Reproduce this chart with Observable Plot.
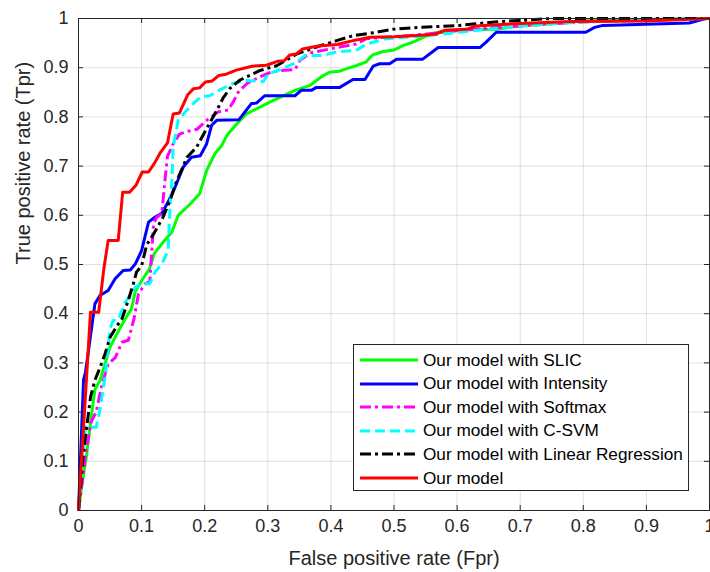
<!DOCTYPE html>
<html>
<head>
<meta charset="utf-8">
<script src="https://cdn.jsdelivr.net/npm/d3@7"></script>
<script src="https://cdn.jsdelivr.net/npm/@observablehq/plot@0.6"></script>
<style>
  html, body { margin: 0; padding: 0; background: #fff; }
  #wrap { position: relative; width: 710px; height: 572px; font-family: "Liberation Sans", Arial, Helvetica, sans-serif; }
  #legend { position: absolute; left: 353px; top: 344px; width: 334px; height: 145px; background: #fff; border: 1px solid #262626; }
  .row { position: absolute; left: 0; height: 24px; display: flex; align-items: center; font-size: 17.2px; color: #000; white-space: nowrap; }
  .row svg { margin-left: 6px; margin-right: 5px; }
</style>
</head>
<body>
<div id="wrap"></div>
<script>
// ---- data (Fpr, Tpr) ----
const seriesNames = ["Our model with SLIC", "Our model with Intensity", "Our model with Softmax", "Our model with C-SVM", "Our model with Linear Regression", "Our model"];
const seriesColors = ["#00ff00", "#0000ff", "#ff00ff", "#00ffff", "#000000", "#ff0000"];
const seriesDashes = [null, null, "11,4,3,4", "10,5", "11,4,3,4", null];

const slic = [[0,0],[0.005,0.047],[0.013,0.115],[0.021,0.197],[0.026,0.246],[0.034,0.264],[0.042,0.298],[0.050,0.332],[0.058,0.352],[0.069,0.378],[0.077,0.396],[0.084,0.41],[0.090,0.445],[0.100,0.467],[0.112,0.49],[0.120,0.522],[0.132,0.542],[0.148,0.566],[0.158,0.600],[0.163,0.606],[0.177,0.623],[0.192,0.644],[0.203,0.691],[0.216,0.725],[0.227,0.742],[0.235,0.762],[0.251,0.786],[0.266,0.806],[0.277,0.813],[0.303,0.830],[0.343,0.854],[0.367,0.864],[0.377,0.874],[0.388,0.884],[0.398,0.891],[0.414,0.893],[0.425,0.898],[0.440,0.904],[0.456,0.912],[0.466,0.926],[0.483,0.933],[0.500,0.936],[0.514,0.945],[0.532,0.953],[0.550,0.964],[0.570,0.972],[0.615,0.977],[0.66,0.978],[0.70,0.985],[0.80,0.995],[0.9,0.998],[1,1]];
const intensity = [[0,0],[0.008,0.266],[0.011,0.28],[0.026,0.42],[0.034,0.437],[0.047,0.447],[0.058,0.471],[0.071,0.488],[0.082,0.489],[0.090,0.501],[0.100,0.528],[0.111,0.586],[0.121,0.596],[0.132,0.604],[0.142,0.627],[0.153,0.657],[0.166,0.698],[0.179,0.718],[0.193,0.721],[0.203,0.745],[0.211,0.783],[0.219,0.793],[0.254,0.794],[0.274,0.827],[0.282,0.828],[0.295,0.843],[0.343,0.843],[0.353,0.854],[0.369,0.854],[0.377,0.860],[0.414,0.860],[0.435,0.876],[0.454,0.876],[0.467,0.903],[0.477,0.908],[0.493,0.908],[0.504,0.917],[0.545,0.917],[0.570,0.941],[0.636,0.941],[0.646,0.952],[0.662,0.972],[0.804,0.972],[0.818,0.982],[0.831,0.986],[0.968,0.991],[0.994,1.0],[1,1]];
const softmax = [[0,0],[0.012,0.12],[0.02,0.18],[0.028,0.2],[0.037,0.255],[0.047,0.298],[0.058,0.31],[0.069,0.342],[0.079,0.346],[0.088,0.39],[0.095,0.44],[0.105,0.46],[0.113,0.465],[0.119,0.583],[0.124,0.596],[0.132,0.603],[0.137,0.671],[0.141,0.72],[0.150,0.745],[0.160,0.765],[0.174,0.771],[0.188,0.775],[0.203,0.793],[0.221,0.810],[0.237,0.814],[0.245,0.83],[0.253,0.850],[0.268,0.869],[0.287,0.881],[0.305,0.891],[0.320,0.894],[0.343,0.896],[0.351,0.915],[0.367,0.930],[0.398,0.938],[0.44,0.948],[0.456,0.959],[0.5,0.963],[0.55,0.968],[0.604,0.976],[0.7,0.985],[0.8,0.993],[0.9,0.997],[1,1]];
const csvm = [[0,0],[0.011,0.169],[0.028,0.169],[0.034,0.205],[0.042,0.271],[0.050,0.37],[0.055,0.386],[0.063,0.388],[0.074,0.423],[0.084,0.44],[0.090,0.454],[0.100,0.461],[0.113,0.461],[0.121,0.484],[0.132,0.501],[0.142,0.528],[0.145,0.616],[0.148,0.671],[0.150,0.738],[0.158,0.793],[0.169,0.81],[0.182,0.827],[0.193,0.840],[0.208,0.843],[0.224,0.855],[0.245,0.868],[0.261,0.874],[0.293,0.872],[0.301,0.888],[0.316,0.894],[0.346,0.911],[0.359,0.925],[0.388,0.925],[0.409,0.932],[0.440,0.935],[0.456,0.948],[0.488,0.959],[0.55,0.965],[0.604,0.972],[0.7,0.985],[0.8,0.993],[0.9,0.997],[1,1]];
const linreg = [[0,0],[0.008,0.12],[0.013,0.169],[0.019,0.23],[0.026,0.265],[0.034,0.29],[0.042,0.318],[0.050,0.352],[0.061,0.375],[0.069,0.39],[0.077,0.42],[0.087,0.461],[0.092,0.485],[0.100,0.497],[0.108,0.540],[0.119,0.562],[0.134,0.596],[0.145,0.630],[0.156,0.671],[0.172,0.718],[0.187,0.738],[0.203,0.776],[0.219,0.813],[0.229,0.838],[0.240,0.858],[0.256,0.875],[0.287,0.894],[0.314,0.904],[0.346,0.928],[0.377,0.942],[0.409,0.955],[0.435,0.965],[0.472,0.972],[0.498,0.978],[0.541,0.982],[0.604,0.986],[0.66,0.993],[0.75,1.0],[1,1]];
const ours = [[0,0],[0.019,0.403],[0.032,0.403],[0.040,0.49],[0.047,0.549],[0.063,0.549],[0.070,0.647],[0.081,0.647],[0.091,0.661],[0.101,0.688],[0.111,0.688],[0.120,0.705],[0.130,0.728],[0.141,0.747],[0.150,0.806],[0.160,0.808],[0.173,0.845],[0.182,0.857],[0.192,0.859],[0.201,0.871],[0.212,0.873],[0.222,0.884],[0.232,0.886],[0.250,0.895],[0.275,0.903],[0.298,0.905],[0.315,0.913],[0.326,0.914],[0.335,0.926],[0.345,0.928],[0.355,0.938],[0.38,0.944],[0.41,0.947],[0.435,0.955],[0.462,0.962],[0.50,0.963],[0.53,0.965],[0.565,0.968],[0.58,0.976],[0.615,0.978],[0.63,0.985],[0.70,0.99],[0.78,0.994],[0.90,0.995],[1,1]];

const xTicks = [0,0.1,0.2,0.3,0.4,0.5,0.6,0.7,0.8,0.9,1];
const yTicks = [0,0.1,0.2,0.3,0.4,0.5,0.6,0.7,0.8,0.9,1];
const xLabel = "False positive rate (Fpr)";
const yLabel = "True positive rate (Tpr)";

const allSeries = [slic, intensity, softmax, csvm, linreg, ours];
const fmt = d => String(+d.toFixed(1));

const W = 710, H = 572, mL = 78, mR = 1, mT = 18, mB = 62;
const innerH = H - mT - mB;
const innerW = W - mL - mR;
const axisColor = "#262626";

const lineMarks = allSeries.map((s, i) => Plot.line(s, {
  x: d => d[0], y: d => d[1],
  stroke: seriesColors[i], strokeWidth: 3,
  strokeDasharray: seriesDashes[i] || undefined,
  strokeLinejoin: "round", strokeLinecap: "butt", curve: "linear"
}));

const chart = Plot.plot({
  width: W, height: H,
  marginLeft: mL, marginRight: mR, marginTop: mT, marginBottom: mB,
  style: { fontFamily: "'Liberation Sans', Arial, Helvetica, sans-serif", background: "#fff", overflow: "visible" },
  x: { domain: [0, 1] },
  y: { domain: [0, 1] },
  marks: [
    Plot.gridX(xTicks, { stroke: "#000", strokeOpacity: 0.12, strokeWidth: 1 }),
    Plot.gridY(yTicks, { stroke: "#000", strokeOpacity: 0.12, strokeWidth: 1 }),
    // inward ticks on all four sides
    Plot.tickX(xTicks, { x: d => d, insetTop: innerH - 5, stroke: axisColor }),
    Plot.tickX(xTicks, { x: d => d, insetBottom: innerH - 5, stroke: axisColor }),
    Plot.tickY(yTicks, { y: d => d, insetRight: innerW - 5, stroke: axisColor }),
    Plot.tickY(yTicks, { y: d => d, insetLeft: innerW - 5, stroke: axisColor }),
    Plot.axisX(xTicks, { tickSize: 0, tickPadding: 9, fontSize: 18, fill: axisColor, tickFormat: fmt, label: null }),
    Plot.axisY(yTicks, { tickSize: 0, tickPadding: 10, fontSize: 18, fill: axisColor, tickFormat: fmt, label: null }),
    ...lineMarks,
    Plot.frame({ stroke: axisColor, strokeWidth: 1 }),
    Plot.text([xLabel], { frameAnchor: "bottom", dy: 48, fontSize: 20, fill: axisColor, lineAnchor: "middle" }),
    Plot.text([yLabel], { frameAnchor: "left", dx: -55, rotate: -90, fontSize: 20, fill: axisColor, lineAnchor: "middle" })
  ]
});

const wrap = document.getElementById("wrap");
wrap.appendChild(chart);

// legend
const legend = document.createElement("div");
legend.id = "legend";
seriesNames.forEach((name, i) => {
  const row = document.createElement("div");
  row.className = "row";
  row.style.top = (3 + i * 23.6) + "px";
  const dash = seriesDashes[i] ? `stroke-dasharray="${seriesDashes[i]}"` : "";
  row.innerHTML = `<svg width="58" height="6"><line x1="0" x2="58" y1="3" y2="3" stroke="${seriesColors[i]}" stroke-width="3" ${dash}/></svg><span>${name}</span>`;
  legend.appendChild(row);
});
wrap.appendChild(legend);
</script>
</body>
</html>
